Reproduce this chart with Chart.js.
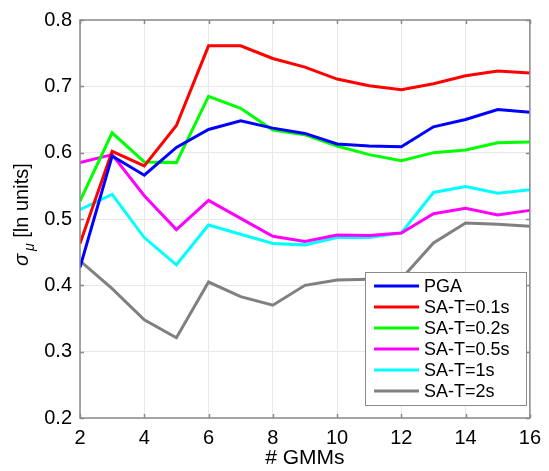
<!DOCTYPE html>
<html>
<head>
<meta charset="utf-8">
<script src="https://cdn.jsdelivr.net/npm/chart.js@4/dist/chart.umd.min.js"></script>
<style>
html,body{margin:0;padding:0;background:#fff;}
#c{display:block;}
</style>
</head>
<body>
<canvas id="c" width="549" height="471"></canvas>
<script>
const gmms = [2,3,4,5,6,7,8,9,10,11,12,13,14,15,16];
const pga   = [0.427,0.595,0.566,0.608,0.635,0.648,0.637,0.629,0.613,0.610,0.609,0.639,0.650,0.665,0.661];
const sa01  = [0.463,0.602,0.580,0.641,0.761,0.761,0.742,0.729,0.711,0.701,0.695,0.704,0.716,0.723,0.720];
const sa02  = [0.527,0.630,0.586,0.585,0.685,0.667,0.634,0.627,0.610,0.597,0.588,0.600,0.604,0.615,0.616];
const sa05  = [0.585,0.597,0.535,0.484,0.528,0.501,0.474,0.466,0.476,0.475,0.479,0.508,0.516,0.506,0.513];
const sa1   = [0.514,0.537,0.472,0.431,0.491,0.477,0.463,0.461,0.472,0.472,0.479,0.540,0.549,0.539,0.544];
const sa2   = [0.437,0.395,0.348,0.321,0.405,0.383,0.370,0.400,0.408,0.409,0.410,0.464,0.494,0.492,0.489];
const seriesNames = ['PGA','SA-T=0.1s','SA-T=0.2s','SA-T=0.5s','SA-T=1s','SA-T=2s'];
const seriesColors = ['#0000ff','#ff0000','#00ff00','#ff00ff','#00ffff','#808080'];
const seriesValues = [pga, sa01, sa02, sa05, sa1, sa2];
const xTicks = [2,4,6,8,10,12,14,16];
const yTicks = [0.2,0.3,0.4,0.5,0.6,0.7,0.8];

const FONT = '"Liberation Sans", Arial, Helvetica, sans-serif';
const AXIS_COLOR = '#8a8a8a';

const datasets = seriesValues.map((vals, i) => ({
  label: seriesNames[i],
  data: vals.map((v, j) => ({x: gmms[j], y: v})),
  borderColor: seriesColors[i],
  backgroundColor: seriesColors[i],
  borderWidth: 3,
  pointRadius: 0,
  tension: 0,
  fill: false
}));

const framePlugin = {
  id: 'frame',
  afterDraw(chart) {
    const ctx = chart.ctx;
    const a = chart.chartArea;
    const xs = chart.scales.x, ys = chart.scales.y;
    ctx.save();
    // inward ticks
    ctx.strokeStyle = AXIS_COLOR;
    ctx.lineWidth = 1.5;
    ctx.beginPath();
    xTicks.forEach(t => {
      const px = Math.round(xs.getPixelForValue(t)) + 0.5;
      ctx.moveTo(px, a.bottom); ctx.lineTo(px, a.bottom - 4);
      ctx.moveTo(px, a.top); ctx.lineTo(px, a.top + 4);
    });
    yTicks.forEach(t => {
      const py = Math.round(ys.getPixelForValue(t)) + 0.5;
      ctx.moveTo(a.left, py); ctx.lineTo(a.left + 4, py);
      ctx.moveTo(a.right, py); ctx.lineTo(a.right - 4, py);
    });
    ctx.stroke();
    // box
    ctx.lineWidth = 1.5;
    ctx.strokeRect(a.left, a.top, a.right - a.left, a.bottom - a.top);

    // legend
    const lx = 365, ly = 272, lw = 161, lh = 133;
    ctx.fillStyle = '#ffffff';
    ctx.fillRect(lx, ly, lw, lh);
    ctx.strokeStyle = '#8a8a8a';
    ctx.lineWidth = 1;
    ctx.strokeRect(lx + 0.5, ly + 0.5, lw, lh);
    ctx.font = '18px ' + FONT;
    ctx.textBaseline = 'middle';
    ctx.textAlign = 'left';
    chart.data.datasets.forEach((ds, i) => {
      const yy = ly + 14 + i * 21;
      ctx.strokeStyle = ds.borderColor;
      ctx.lineWidth = 3;
      ctx.beginPath();
      ctx.moveTo(lx + 9, yy); ctx.lineTo(lx + 54, yy);
      ctx.stroke();
      ctx.fillStyle = '#000';
      ctx.fillText(ds.label, lx + 59, yy + 1);
    });

    // y axis title: sigma_mu [ln units]
    ctx.translate(28, 266);
    ctx.rotate(-Math.PI / 2);
    ctx.textBaseline = 'alphabetic';
    ctx.fillStyle = '#000';
    ctx.font = 'italic 20px ' + FONT;
    ctx.fillText('σ', 0, 0);
    let w = ctx.measureText('σ').width;
    ctx.font = 'italic 14px ' + FONT;
    ctx.fillText('μ', w + 3, 6);
    w += 3 + ctx.measureText('μ').width;
    ctx.font = '20px ' + FONT;
    ctx.fillText(' [ln units]', w, 0);
    ctx.restore();
  }
};

new Chart(document.getElementById('c'), {
  type: 'line',
  data: { datasets },
  options: {
    responsive: false,
    animation: false,
    layout: { padding: { top: 13, right: 17, left: 0, bottom: 0 } },
    plugins: { legend: { display: false }, tooltip: { enabled: false } },
    scales: {
      x: {
        type: 'linear',
        min: 2, max: 16,
        afterBuildTicks(scale) { scale.ticks = xTicks.map(v => ({value: v})); },
        afterFit(scale) { scale.height = 53; },
        grid: { color: '#e8e8e8', drawTicks: false, lineWidth: 1 },
        border: { display: false },
        ticks: { font: { size: 20, family: FONT }, color: '#000', padding: 8, maxRotation: 0 },
        title: { display: true, text: '# GMMs', font: { size: 21, family: FONT }, color: '#000', padding: { top: 0, bottom: 0 } }
      },
      y: {
        min: 0.2, max: 0.8,
        afterBuildTicks(scale) { scale.ticks = yTicks.map(v => ({value: v})); },
        afterFit(scale) { scale.width = 80; },
        grid: { color: '#e8e8e8', drawTicks: false, lineWidth: 1 },
        border: { display: false },
        ticks: { font: { size: 20, family: FONT }, color: '#000', padding: 8, callback: v => v.toFixed(1) }
      }
    }
  },
  plugins: [framePlugin]
});
</script>
</body>
</html>
